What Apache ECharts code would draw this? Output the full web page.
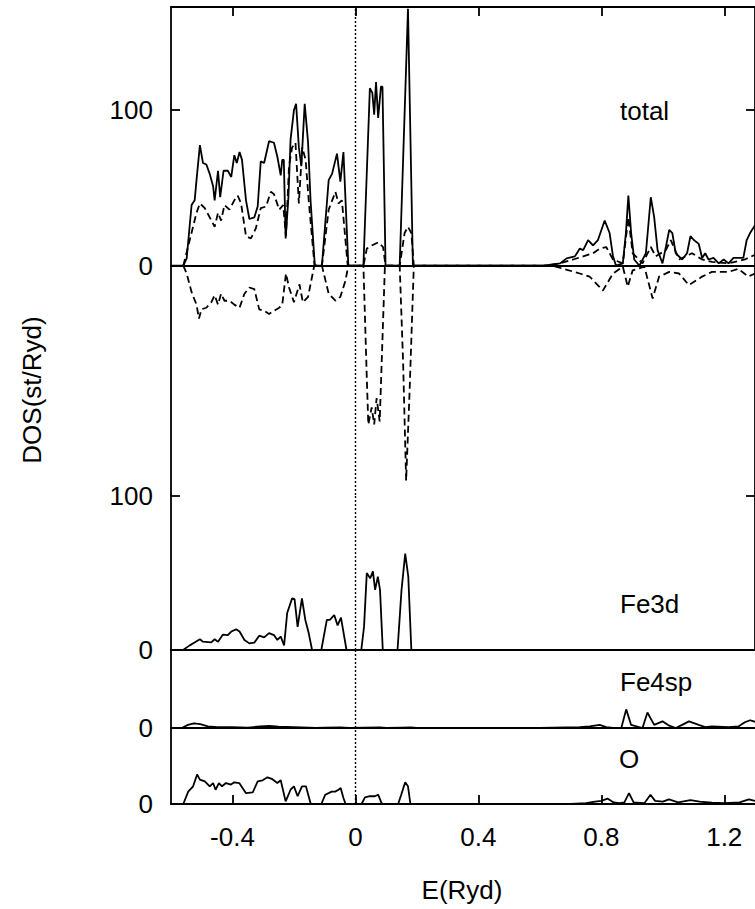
<!DOCTYPE html>
<html>
<head>
<meta charset="utf-8">
<script src="https://cdn.jsdelivr.net/npm/echarts@6/dist/echarts.min.js"></script>
<style>
  html, body { margin: 0; padding: 0; background: #fff; }
  #chart { width: 755px; height: 909px; }
</style>
</head>
<body>
<div id="chart"></div>
<script>
// energy ticks (Ryd) and DOS ticks
const eTicks = [-0.4, 0, 0.4, 0.8, 1.2]
const dosTicks = [0, 100]

// total DOS, solid line  [E, DOS]
const totalSolid = [[-0.6,0],[-0.56,0],[-0.549,4.7],[-0.533,39],[-0.523,42],[-0.517,55],[-0.506,77.5],[-0.496,66],[-0.485,65],[-0.474,59],[-0.463,51],[-0.458,42],[-0.447,61],[-0.44,44],[-0.429,61],[-0.415,61],[-0.404,57],[-0.394,71],[-0.386,66],[-0.377,73],[-0.369,68],[-0.356,42],[-0.345,30],[-0.329,31],[-0.318,38],[-0.308,67],[-0.297,66],[-0.281,80],[-0.265,79],[-0.254,70],[-0.243,58],[-0.238,68],[-0.233,68],[-0.227,17.5],[-0.218,44],[-0.211,81],[-0.2,100],[-0.193,104],[-0.184,76],[-0.176,64],[-0.165,104],[-0.154,79],[-0.146,42],[-0.132,0],[-0.109,0],[-0.087,55],[-0.076,59],[-0.06,72],[-0.049,54],[-0.039,73],[-0.023,0],[0.026,0],[0.047,114],[0.055,111],[0.061,97],[0.067,118],[0.074,95],[0.083,115],[0.088,115],[0.098,0],[0.144,0],[0.171,165],[0.187,0],[0.612,0],[0.666,1.5],[0.687,4.7],[0.714,6],[0.73,11],[0.741,10],[0.757,16.5],[0.773,13],[0.789,16.5],[0.811,29],[0.827,21],[0.838,6],[0.848,0],[0.87,1.5],[0.88,21],[0.888,45],[0.897,21],[0.907,4],[0.924,0],[0.945,8],[0.961,44],[0.972,31],[0.983,10],[0.999,1.5],[1.01,12],[1.021,23],[1.031,21],[1.042,8],[1.063,4],[1.079,8],[1.09,19],[1.101,16.5],[1.117,14],[1.128,5],[1.138,8],[1.149,4],[1.165,5],[1.182,1.5],[1.198,4],[1.214,1.5],[1.23,5],[1.262,5],[1.273,16.5],[1.284,21],[1.3,26]]

// total DOS, dashed, spin up
const totalUp = [[-0.56,0],[-0.539,16.5],[-0.517,34],[-0.506,40],[-0.49,37],[-0.474,31],[-0.458,25],[-0.447,34],[-0.437,29],[-0.426,39],[-0.41,36],[-0.394,42],[-0.383,45],[-0.372,40],[-0.356,19],[-0.34,17.5],[-0.324,24],[-0.308,37],[-0.291,38],[-0.275,47.5],[-0.265,46],[-0.248,36],[-0.235,39],[-0.226,19],[-0.216,64],[-0.206,76],[-0.195,79],[-0.184,40],[-0.173,76],[-0.162,68],[-0.152,42],[-0.133,0],[-0.109,0],[-0.087,36],[-0.065,47.5],[-0.055,40],[-0.044,42],[-0.025,0],[0.026,0],[0.037,11],[0.053,13],[0.074,15],[0.09,12],[0.098,0],[0.144,0],[0.16,21],[0.171,25],[0.182,21],[0.19,0],[0.62,0],[0.666,1.5],[0.709,4],[0.741,6],[0.773,8],[0.795,11],[0.816,12],[0.838,4],[0.87,1.5],[0.888,31],[0.902,8],[0.934,1.5],[0.961,12],[0.977,6],[1.01,10],[1.026,16.5],[1.053,4],[1.095,8],[1.128,4],[1.16,2.5],[1.214,1.5],[1.267,4],[1.3,7]]

// total DOS, dashed, spin down
const totalDown = [[-0.56,0],[-0.549,-5],[-0.533,-17],[-0.517,-25],[-0.509,-34],[-0.501,-28],[-0.485,-27],[-0.469,-23.5],[-0.458,-19],[-0.447,-25],[-0.437,-18],[-0.426,-22.5],[-0.41,-22.5],[-0.394,-25],[-0.377,-27],[-0.361,-18],[-0.345,-14],[-0.329,-15],[-0.313,-28],[-0.297,-29],[-0.281,-31],[-0.265,-29],[-0.248,-27],[-0.238,-25],[-0.226,-5],[-0.216,-14],[-0.2,-23.5],[-0.182,-12],[-0.171,-23.5],[-0.154,-20],[-0.134,0],[-0.109,0],[-0.087,-18],[-0.065,-22.5],[-0.049,-20],[-0.033,-10],[-0.023,0],[0.026,0],[0.037,-72],[0.042,-102],[0.053,-91],[0.061,-102],[0.069,-85],[0.079,-100],[0.096,0],[0.144,0],[0.155,-61],[0.165,-138],[0.176,-82],[0.19,0],[0.64,0],[0.677,-2],[0.73,-5],[0.762,-7],[0.805,-16],[0.838,-5],[0.87,-0.6],[0.886,-13.5],[0.902,-3],[0.94,-0.6],[0.967,-21],[0.988,-7],[1.021,-4],[1.053,-5],[1.085,-12.5],[1.128,-7],[1.16,-4],[1.214,-4],[1.246,-2],[1.278,-7],[1.3,-5]]

// partial DOS
const fe3d = [[-0.6,0],[-0.561,0],[-0.539,3],[-0.522,5],[-0.506,7],[-0.496,5.4],[-0.469,5],[-0.458,7],[-0.447,5.4],[-0.431,10],[-0.415,9.7],[-0.404,12],[-0.388,13.4],[-0.377,12],[-0.361,6.5],[-0.345,4.3],[-0.329,4.8],[-0.313,9.3],[-0.297,8.2],[-0.281,11],[-0.265,9.7],[-0.254,6.5],[-0.243,8.7],[-0.232,3],[-0.222,24],[-0.206,33.5],[-0.198,33],[-0.188,15],[-0.174,33.5],[-0.163,19.5],[-0.152,11],[-0.141,0],[-0.111,0],[-0.093,19.5],[-0.083,19.5],[-0.069,22.7],[-0.058,16],[-0.047,21],[-0.029,0],[0.019,0],[0.028,15],[0.037,50],[0.048,46.5],[0.057,51],[0.064,39],[0.073,47.6],[0.08,39],[0.089,0],[0.137,0],[0.15,39],[0.162,62.5],[0.172,47.6],[0.182,0],[1.3,0]]

const fe4sp = [[-0.6,0],[-0.565,0],[-0.545,2],[-0.525,3],[-0.505,2.5],[-0.48,1],[-0.45,0.5],[-0.4,0.5],[-0.35,0.3],[-0.31,1],[-0.28,1.3],[-0.25,0.8],[-0.2,0.6],[-0.15,0.3],[-0.13,0],[-0.1,0.3],[-0.05,0.4],[-0.02,0],[0.03,0.3],[0.08,0.4],[0.1,0],[0.15,0.3],[0.18,0.4],[0.2,0],[0.6,0],[0.73,0.5],[0.762,1],[0.795,2],[0.816,0.6],[0.838,0],[0.865,0],[0.881,12],[0.897,2],[0.934,0],[0.95,10],[0.972,2],[0.999,4.3],[1.021,1.5],[1.042,0],[1.063,2],[1.085,4.3],[1.117,2],[1.138,0.6],[1.16,1],[1.214,0.6],[1.246,1],[1.267,3.7],[1.284,5],[1.3,4]]

const oxy = [[-0.6,0],[-0.56,0],[-0.544,8],[-0.528,11.4],[-0.515,19],[-0.506,15.7],[-0.49,14.6],[-0.474,11.4],[-0.463,13.5],[-0.455,9.2],[-0.444,13.5],[-0.434,11.4],[-0.421,13.5],[-0.405,12.5],[-0.394,14],[-0.378,13.5],[-0.356,7],[-0.334,7.5],[-0.318,14.6],[-0.302,15.3],[-0.286,17.2],[-0.27,16],[-0.254,13.5],[-0.243,15.3],[-0.227,1.7],[-0.211,9.2],[-0.2,11.4],[-0.188,5],[-0.174,11.4],[-0.161,11.4],[-0.146,0.5],[-0.141,0],[-0.111,0],[-0.098,6],[-0.077,8],[-0.066,8],[-0.055,9.2],[-0.048,10.3],[-0.039,3.9],[-0.032,0],[0.02,0],[0.031,4.3],[0.047,5],[0.063,5],[0.074,6],[0.085,0.6],[0.09,0],[0.139,0],[0.149,6],[0.162,14],[0.171,11.4],[0.179,0],[0.7,0],[0.75,0.5],[0.78,1.5],[0.8,2],[0.82,3.5],[0.84,1],[0.86,0.5],[0.875,1],[0.89,7],[0.905,1],[0.94,0.5],[0.96,6],[0.975,2],[1.0,1.5],[1.02,3],[1.05,1],[1.09,2.5],[1.12,1.5],[1.16,0.8],[1.2,0.5],[1.25,1],[1.28,3],[1.3,2]]

const FONT = 'Liberation Sans'
const black = { color: '#000', width: 1.8 }

function xAxis(gridIndex, extra) {
  return Object.assign({
    type: 'value', gridIndex, min: -0.6, max: 1.3,
    axisLine: { show: true, onZero: true, lineStyle: black },
    axisTick: { show: false },
    axisLabel: { show: false },
    splitLine: { show: false }
  }, extra)
}

function yAxis(gridIndex, min, max, extra) {
  return Object.assign({
    type: 'value', gridIndex, min, max,
    axisLine: { show: true, onZero: false, lineStyle: black },
    axisTick: { show: true, inside: true, length: 9, lineStyle: black, customValues: [0] },
    axisLabel: { show: true, customValues: [0], margin: 18, color: '#000', fontFamily: FONT, fontSize: 26 },
    splitLine: { show: false }
  }, extra)
}

function line(data, xi, yi, dashed, withFermi) {
  const s = {
    type: 'line', data, xAxisIndex: xi, yAxisIndex: yi,
    showSymbol: false, animation: false,
    lineStyle: { color: '#000', width: 1.8, type: dashed ? [7, 4] : 'solid' }
  }
  if (withFermi) {
    s.markLine = {
      silent: true, symbol: 'none', animation: false,
      label: { show: false },
      lineStyle: { color: '#000', width: 1.4, type: [2, 2] },
      data: [{ xAxis: 0 }]
    }
  }
  return s
}

const chart = echarts.init(document.getElementById('chart'), null, { renderer: 'svg' })

const ticks = { show: true, inside: true, length: 9, lineStyle: black, customValues: eTicks }

chart.setOption({
  backgroundColor: '#fff',
  grid: [
    { left: 171, width: 589, top: 7, height: 488 },
    { left: 171, width: 589, top: 495, height: 155 },
    { left: 171, width: 589, top: 650, height: 78 },
    { left: 171, width: 589, top: 728, height: 76 }
  ],
  xAxis: [
    xAxis(0),
    xAxis(0, { position: 'top', axisLine: { show: true, onZero: false, lineStyle: black }, axisTick: ticks }),
    xAxis(1),
    xAxis(2),
    xAxis(3, {
      axisTick: ticks,
      axisLabel: { show: true, customValues: eTicks, margin: 20, color: '#000', fontFamily: FONT, fontSize: 26 }
    })
  ],
  yAxis: [
    yAxis(0, -147.3, 166.2, {
      axisTick: { show: true, inside: true, length: 9, lineStyle: black, customValues: dosTicks },
      axisLabel: { show: true, customValues: dosTicks, margin: 18, color: '#000', fontFamily: FONT, fontSize: 26 }
    }),
    yAxis(0, -147.3, 166.2, {
      position: 'right',
      axisTick: { show: true, inside: true, length: 9, lineStyle: black, customValues: [100] },
      axisLabel: { show: false }
    }),
    yAxis(1, 0, 100.6, {
      axisTick: { show: true, inside: true, length: 9, lineStyle: black, customValues: dosTicks },
      axisLabel: { show: true, customValues: dosTicks, margin: 18, color: '#000', fontFamily: FONT, fontSize: 26 }
    }),
    yAxis(1, 0, 100.6, {
      position: 'right',
      axisTick: { show: true, inside: true, length: 9, lineStyle: black, customValues: [100] },
      axisLabel: { show: false }
    }),
    yAxis(2, 0, 50.3),
    yAxis(3, 0, 49)
  ],
  series: [
    line(totalSolid, 0, 0, false, true),
    line(totalUp, 0, 0, true, false),
    line(totalDown, 0, 0, true, false),
    line(fe3d, 2, 2, false, true),
    line(fe4sp, 3, 4, false, true),
    line(oxy, 4, 5, false, true)
  ],
  graphic: [
    { type: 'text', x: 620, y: 111, style: { text: 'total', font: '26px "Liberation Sans"', fill: '#000', align: 'left', verticalAlign: 'middle' } },
    { type: 'text', x: 620, y: 604, style: { text: 'Fe3d', font: '26px "Liberation Sans"', fill: '#000', align: 'left', verticalAlign: 'middle' } },
    { type: 'text', x: 620, y: 682, style: { text: 'Fe4sp', font: '26px "Liberation Sans"', fill: '#000', align: 'left', verticalAlign: 'middle' } },
    { type: 'text', x: 619, y: 759, style: { text: 'O', font: '26px "Liberation Sans"', fill: '#000', align: 'left', verticalAlign: 'middle' } },
    { type: 'text', x: 462, y: 890, style: { text: 'E(Ryd)', font: '26px "Liberation Sans"', fill: '#000', align: 'center', verticalAlign: 'middle' } },
    { type: 'text', x: 32, y: 390, rotation: Math.PI / 2, style: { text: 'DOS(st/Ryd)', font: '26px "Liberation Sans"', fill: '#000', align: 'center', verticalAlign: 'middle' } }
  ]
})
</script>
</body>
</html>
